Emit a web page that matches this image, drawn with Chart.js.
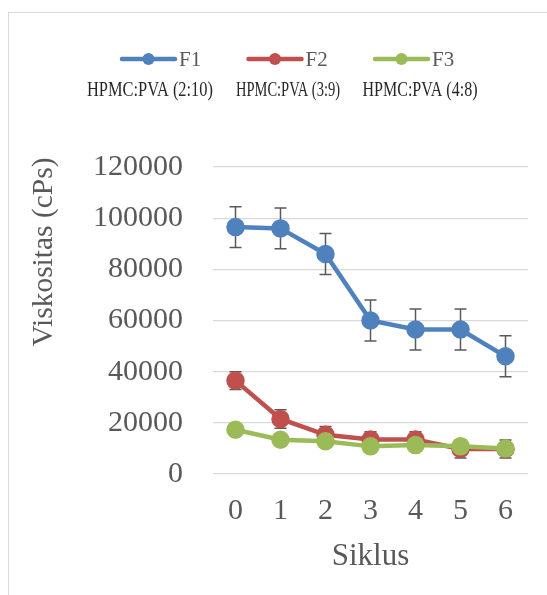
<!DOCTYPE html>
<html>
<head>
<meta charset="utf-8">
<script src="https://cdn.jsdelivr.net/npm/chart.js@4/dist/chart.umd.min.js"></script>
<style>
html, body { margin: 0; padding: 0; background: #ffffff; }
#wrap { position: relative; width: 547px; height: 595px; overflow: hidden; }
#frame { position: absolute; left: 8px; top: 12px; width: 700px; height: 700px; border-left: 1px solid #d9d9d9; border-top: 1px solid #d9d9d9; box-sizing: border-box; }
#c { position: absolute; left: 0; top: 0; }
</style>
</head>
<body>
<div id="wrap">
  <div id="frame"></div>
  <canvas id="c" width="547" height="595"></canvas>
</div>
<script>
const categories = ['0', '1', '2', '3', '4', '5', '6'];
const seriesNames = ['F1', 'F2', 'F3'];
const seriesSubLabels = ['HPMC:PVA (2:10)', 'HPMC:PVA (3:9)', 'HPMC:PVA (4:8)'];
const f1Values = [96500, 96000, 86000, 60000, 56500, 56500, 46000];
const f2Values = [36500, 21500, 15300, 13500, 13500, 9800, 9800];
const f3Values = [17300, 13400, 12800, 10800, 11300, 10800, 10000];
const f1Errors = [8000, 8000, 8000, 8000, 8000, 8000, 8000];
const f2Errors = [3500, 3600, 3300, 3000, 3000, 3500, 3500];
const f3Errors = [null, null, null, null, null, null, null];
const yTicks = [0, 20000, 40000, 60000, 80000, 100000, 120000];
const xTitle = 'Siklus';
const yTitle = 'Viskositas (cPs)';

const COLORS = ['#4f81bd', '#c0504d', '#9bbb59'];
const SERIF = "'Liberation Serif', 'Times New Roman', serif";

const errorBarPlugin = {
  id: 'errorBars',
  beforeDatasetsDraw(chart) {
    const ctx = chart.ctx;
    const y = chart.scales.y, x = chart.scales.x;
    ctx.save();
    ctx.strokeStyle = '#595959';
    ctx.lineWidth = 1.5;
    chart.data.datasets.forEach((ds) => {
      const errs = ds.errors || [];
      ds.data.forEach((v, i) => {
        const e = errs[i];
        if (e == null) return;
        const px = x.getPixelForValue(i);
        const top = y.getPixelForValue(v + e);
        const bot = y.getPixelForValue(v - e);
        ctx.beginPath();
        ctx.moveTo(px, top); ctx.lineTo(px, bot);
        ctx.moveTo(px - 6, top); ctx.lineTo(px + 6, top);
        ctx.moveTo(px - 6, bot); ctx.lineTo(px + 6, bot);
        ctx.stroke();
      });
    });
    ctx.restore();
  }
};

const legendPlugin = {
  id: 'customLegend',
  afterDraw(chart) {
    const ctx = chart.ctx;
    const startX = 122, step = 126.5, rowY = 59, lineLen = 53;
    const subCenters = [150, 288, 420];
    const subWidths = [126, 104, 115];
    ctx.save();
    chart.data.datasets.forEach((ds, i) => {
      const x0 = startX + i * step;
      ctx.strokeStyle = ds.borderColor;
      ctx.lineWidth = 4.5;
      ctx.lineCap = 'round';
      ctx.beginPath();
      ctx.moveTo(x0, rowY); ctx.lineTo(x0 + lineLen, rowY);
      ctx.stroke();
      ctx.fillStyle = ds.borderColor;
      ctx.beginPath();
      ctx.arc(x0 + lineLen / 2, rowY, 6, 0, Math.PI * 2);
      ctx.fill();
      ctx.fillStyle = '#595959';
      ctx.font = '21px ' + SERIF;
      ctx.textAlign = 'left';
      ctx.textBaseline = 'middle';
      ctx.fillText(ds.label, x0 + lineLen + 4, rowY + 1);
      ctx.fillStyle = '#262626';
      ctx.font = '21px ' + SERIF;
      ctx.textAlign = 'center';
      ctx.fillText(seriesSubLabels[i], subCenters[i], 90, subWidths[i]);
    });
    // y axis title
    ctx.fillStyle = '#595959';
    ctx.font = '29.5px ' + SERIF;
    ctx.textAlign = 'center';
    ctx.textBaseline = 'middle';
    ctx.translate(44, 252);
    ctx.rotate(-Math.PI / 2);
    ctx.fillText(yTitle, 0, 0);
    ctx.restore();
  }
};

function mkDataset(label, data, errors, color, order) {
  return {
    label, data, errors,
    borderColor: color, backgroundColor: color,
    pointBackgroundColor: color, pointBorderColor: color,
    borderWidth: 4.5, pointRadius: 7, pointHoverRadius: 7,
    tension: 0, order
  };
}

new Chart(document.getElementById('c'), {
  type: 'line',
  data: {
    labels: categories,
    datasets: [
      mkDataset(seriesNames[0], f1Values, f1Errors, COLORS[0], 2),
      mkDataset(seriesNames[1], f2Values, f2Errors, COLORS[1], 1),
      mkDataset(seriesNames[2], f3Values, f3Errors, COLORS[2], 0)
    ]
  },
  options: {
    responsive: false,
    animation: false,
    devicePixelRatio: 1,
    layout: { padding: { left: 16, right: 19, top: 167, bottom: 10 } },
    plugins: { legend: { display: false }, tooltip: { enabled: false } },
    scales: {
      x: {
        offset: true,
        afterFit(scale) { scale.height = 111; },
        grid: { display: false, drawTicks: false },
        border: { display: false },
        ticks: { color: '#595959', font: { family: SERIF, size: 30 }, padding: 19 },
        title: { display: true, text: xTitle, color: '#595959', font: { family: SERIF, size: 31 }, padding: { top: 8, bottom: 10 } }
      },
      y: {
        min: 0, max: 120000,
        afterFit(scale) { scale.width = 197; },
        afterBuildTicks(scale) { scale.ticks = yTicks.map(v => ({ value: v })); },
        grid: { color: '#d9d9d9', lineWidth: 1.3, drawTicks: false },
        border: { display: false },
        ticks: { color: '#595959', font: { family: SERIF, size: 30 }, padding: 30, callback: (v) => String(v) },
        title: { display: false }
      }
    }
  },
  plugins: [errorBarPlugin, legendPlugin]
});
</script>
</body>
</html>
